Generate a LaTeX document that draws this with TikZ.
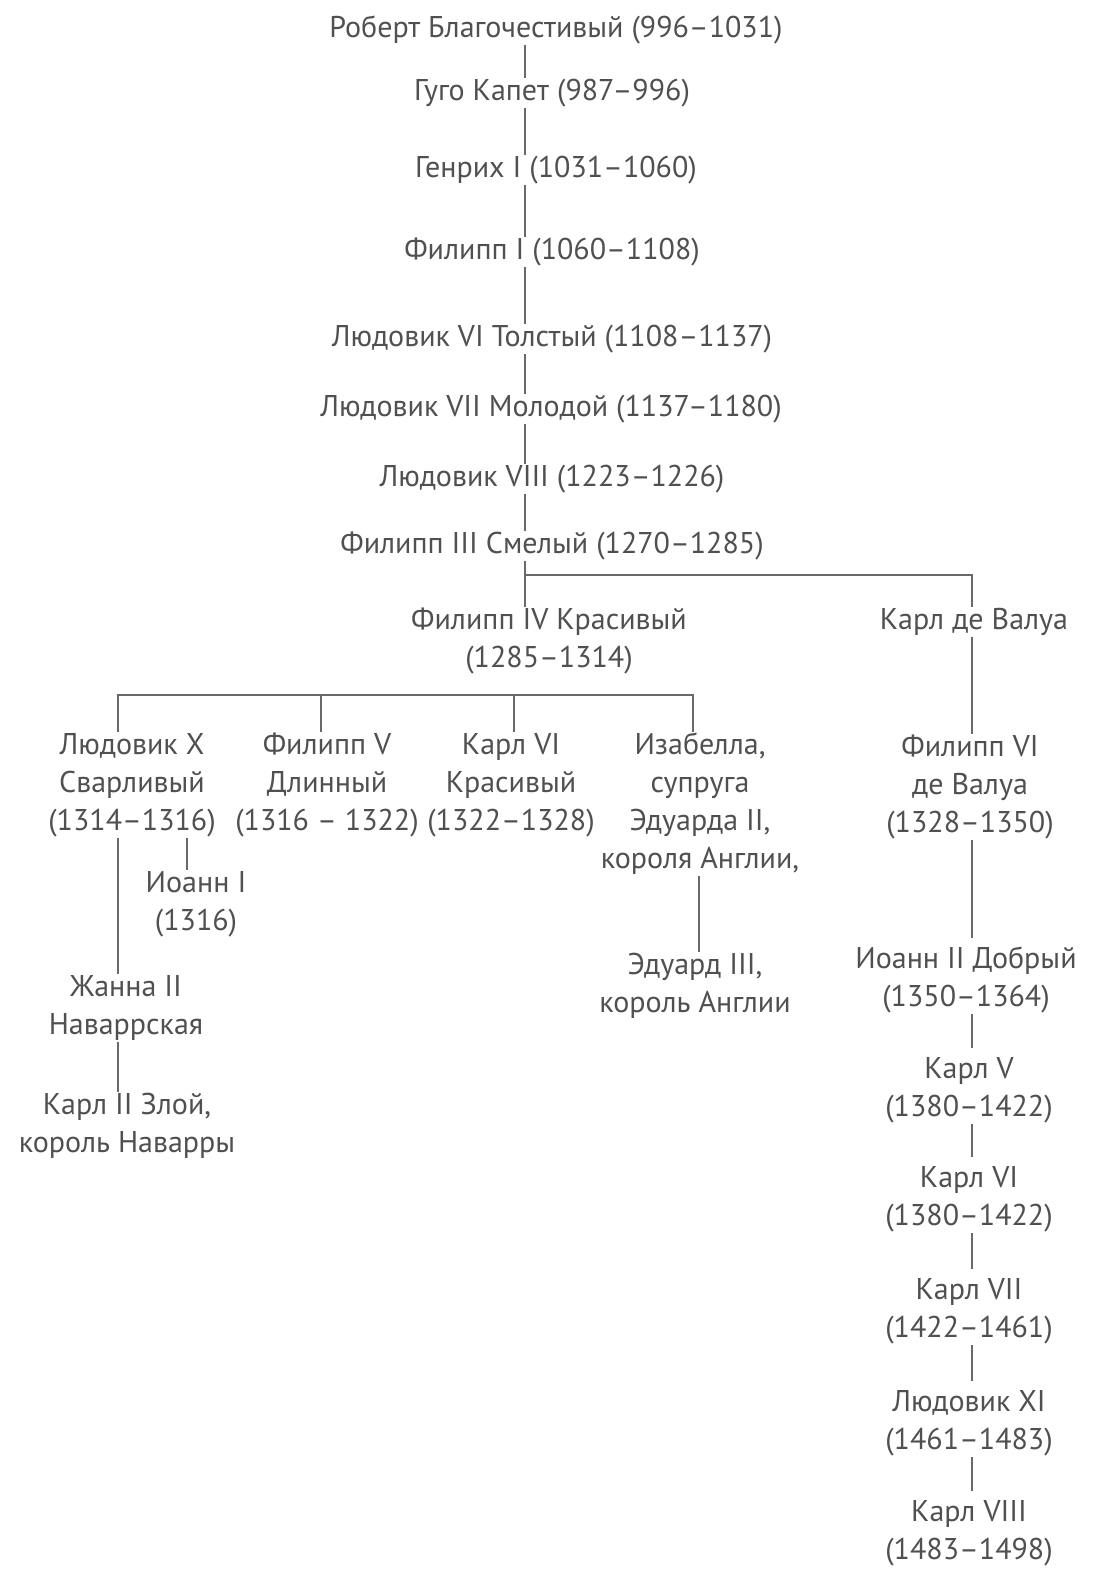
\documentclass[tikz,border=0pt]{standalone}
\usepackage{fontspec}
\setmainfont{PT Sans}
\usepackage{tikz}
\definecolor{txtgray}{RGB}{80,80,80}
\definecolor{lngray}{RGB}{105,105,105}

\begin{document}
\begin{tikzpicture}[x=1pt, y=-1pt,
  king/.style={font=\fontsize{30}{38}\selectfont, text=txtgray, align=center, inner sep=1pt},
  link/.style={draw=lngray, line width=2pt},
  gapped/.style={link, shorten >=8pt}]
\path[fill=white, use as bounding box] (0,0) rectangle (1093,1571);
\coordinate (sp) at (525,0);
\coordinate (rs) at (972,0);
% Capetians
\node[king] (rob) at (556,30) {Роберт Благочестивый (996–1031)};
\node[king] (gugo) at (552,93) {Гуго Капет (987–996)};
\node[king] (genr) at (556,170) {Генрих I (1031–1060)};
\node[king] (fil1) at (552,252) {Филипп I (1060–1108)};
\node[king] (lud6) at (552,339) {Людовик VI Толстый (1108–1137)};
\node[king] (lud7) at (551,409) {Людовик VII Молодой (1137–1180)};
\node[king] (lud8) at (552,479) {Людовик VIII (1223–1226)};
\node[king] (fil3) at (552,546) {Филипп III Смелый (1270–1285)};
\node[king] (fil4) at (549,641) {Филипп IV Красивый\\(1285–1314)};
\node[king] (valua) at (974,622) {Карл де Валуа};
% sons of Philip IV
\node[king] (ludx) at (132,785) {Людовик X\\Сварливый\\(1314–1316)};
\node[king] (fil5) at (327,785) {Филипп V\\Длинный\\(1316 – 1322)};
\node[king] (karl4) at (511,785) {Карл VI\\Красивый\\(1322–1328)};
\node[king] (isab) at (700,804) {Изабелла,\\супруга\\Эдуарда II,\\короля Англии,};
\node[king] (ioann1) at (196,904) {Иоанн I\\(1316)};
\node[king] (jeanne) at (126,1008) {Жанна II\\Наваррская};
\node[king] (karl2) at (127,1126) {Карл II Злой,\\король Наварры};
\node[king] (edw3) at (695,986) {Эдуард III,\\король Англии};
% Valois
\node[king] (fil6) at (970,787) {Филипп VI\\де Валуа\\(1328–1350)};
\node[king] (ioann2) at (966,980) {Иоанн II Добрый\\(1350–1364)};
\node[king] (karl5) at (969,1090) {Карл V\\(1380–1422)};
\node[king] (karl6) at (969,1199) {Карл VI\\(1380–1422)};
\node[king] (karl7) at (969,1311) {Карл VII\\(1422–1461)};
\node[king] (lud11) at (969,1423) {Людовик XI\\(1461–1483)};
\node[king] (karl8) at (969,1533) {Карл VIII\\(1483–1498)};

\foreach \p/\q in {rob/gugo, gugo/genr, genr/fil1, fil1/lud6, lud6/lud7, lud7/lud8, lud8/fil3, fil3/fil4}
  \draw[link] (\p.south -| sp) -- (\q.north -| sp);
\coordinate (fork) at (525,575);
\draw[link] (fork) -| (rs |- valua.north);
\draw[link] (valua.south -| rs) -- (fil6.north -| rs);
\foreach \p/\q in {fil6/ioann2, ioann2/karl5, karl5/karl6, karl6/karl7, karl7/lud11, lud11/karl8}
  \draw[gapped] (\p.south -| rs) -- (\q.north -| rs);

\coordinate (bar) at (0,695);
\coordinate (c1) at (118,0);
\coordinate (c2) at (321,0);
\coordinate (c3) at (514,0);
\coordinate (c4) at (693,0);
\coordinate (c5) at (187,0);
\coordinate (c6) at (699,0);
\draw[link] (ludx.north -| c1) |- (bar -| c4) -- (isab.north -| c4);
\foreach \n/\c in {fil5/c2, karl4/c3}
  \draw[link] (\n.north -| \c) -- (bar -| \c);
\draw[link] (ludx.south -| c1) -- (jeanne.north -| c1);
\draw[link] (ludx.south -| c5) -- (ioann1.north -| c5);
\draw[link] (jeanne.south -| c1) -- (karl2.north -| c1);
\draw[link] (isab.south -| c6) -- (edw3.north -| c6);
\end{tikzpicture}
\end{document}
